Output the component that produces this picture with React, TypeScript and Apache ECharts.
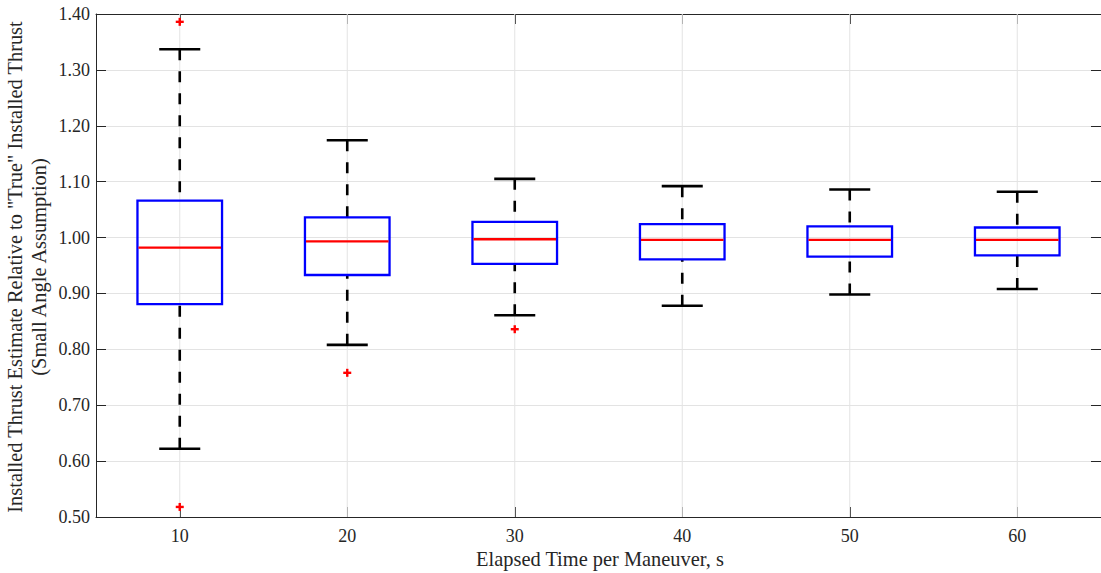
import React, { useEffect, useRef } from "react";
import * as echarts from "echarts";

const categories = ["10", "20", "30", "40", "50", "60"];
const upperWhisker = [1.337, 1.174, 1.105, 1.092, 1.086, 1.082];
const q3 = [1.066, 1.036, 1.028, 1.024, 1.02, 1.018];
const median = [0.982, 0.993, 0.997, 0.996, 0.996, 0.996];
const q1 = [0.881, 0.933, 0.953, 0.961, 0.966, 0.968];
const lowerWhisker = [0.622, 0.808, 0.861, 0.878, 0.898, 0.908];
const outliers: [number, number][] = [
  [0, 1.386],
  [0, 0.518],
  [1, 0.758],
  [2, 0.836],
];
const yMin = 0.5;
const yMax = 1.4;
const yStep = 0.1;
const yTitle1 = 'Installed Thrust Estimate Relative to "True" Installed Thrust';
const yTitle2 = "(Small Angle Assumption)";
const xTitle = "Elapsed Time per Maneuver, s";

const FONT = "'Liberation Serif', 'Times New Roman', serif";
const AXIS = "#262626";
const GRID = "#e3e3e3";
const TITLE_SIZE = 20.4;

export default function App() {
  const ref = useRef<HTMLDivElement>(null);
  useEffect(() => {
    if (!ref.current) return;
    const chart = echarts.init(ref.current, undefined, { renderer: "svg" });
    const boxData = categories.map((_, i) => [
      i,
      lowerWhisker[i],
      q1[i],
      median[i],
      q3[i],
      upperWhisker[i],
    ]);
    const option: any = {
      animation: false,
      backgroundColor: "#ffffff",
      textStyle: { fontFamily: FONT },
      grid: { left: 96, top: 14, width: 1009.6, height: 503, containLabel: false },
      xAxis: [
        {
          type: "category",
          data: categories,
          position: "bottom",
          boundaryGap: true,
          axisLine: { show: true, lineStyle: { color: AXIS, width: 1 } },
          axisTick: { show: true, inside: true, alignWithLabel: true, length: 10, lineStyle: { color: AXIS } },
          axisLabel: { show: true, color: AXIS, fontSize: 18, fontFamily: FONT, margin: 10 },
          splitLine: { show: false },
        },
        {
          type: "category",
          data: categories,
          position: "top",
          boundaryGap: true,
          axisLine: { show: true, lineStyle: { color: AXIS, width: 1 } },
          axisTick: { show: true, inside: true, alignWithLabel: true, length: 10, lineStyle: { color: AXIS } },
          axisLabel: { show: false },
          splitLine: { show: false },
        },
      ],
      yAxis: [
        {
          type: "value",
          min: yMin,
          max: yMax,
          interval: yStep,
          position: "left",
          axisLine: { show: true, lineStyle: { color: AXIS, width: 1 } },
          axisTick: { show: true, inside: true, length: 10, lineStyle: { color: AXIS } },
          axisLabel: {
            color: AXIS,
            fontSize: 18,
            fontFamily: FONT,
            margin: 6,
            formatter: (v: number) => v.toFixed(2),
          },
          splitLine: { show: true, lineStyle: { color: GRID, width: 1 } },
        },
        {
          type: "value",
          min: yMin,
          max: yMax,
          interval: yStep,
          position: "right",
          axisLine: { show: true, lineStyle: { color: AXIS, width: 1 } },
          axisTick: { show: true, inside: true, length: 10, lineStyle: { color: AXIS } },
          axisLabel: { show: false },
          splitLine: { show: false },
        },
      ],
      graphic: [
        {
          type: "text",
          x: 15,
          y: 267,
          rotation: Math.PI / 2,
          style: {
            text: yTitle1,
            font: `${TITLE_SIZE}px ${FONT}`,
            fill: AXIS,
            align: "center",
            verticalAlign: "middle",
          },
        },
        {
          type: "text",
          x: 39,
          y: 267,
          rotation: Math.PI / 2,
          style: {
            text: yTitle2,
            font: `${TITLE_SIZE}px ${FONT}`,
            fill: AXIS,
            align: "center",
            verticalAlign: "middle",
          },
        },
        {
          type: "text",
          x: 600,
          y: 559,
          style: {
            text: xTitle,
            font: `${TITLE_SIZE}px ${FONT}`,
            fill: AXIS,
            align: "center",
            verticalAlign: "middle",
          },
        },
      ],
      series: [
        {
          type: "custom",
          name: "gridx",
          z: 1,
          silent: true,
          data: categories.map((_, i) => [i]),
          encode: { x: 0 },
          renderItem: (params: any, api: any) => {
            const i = api.value(0);
            const a = api.coord([i, yMin]);
            const b = api.coord([i, yMax]);
            return {
              type: "line",
              shape: { x1: a[0], y1: a[1], x2: b[0], y2: b[1] },
              style: { stroke: GRID, lineWidth: 1 },
            };
          },
        },
        {
          type: "custom",
          name: "boxes",
          z: 3,
          data: boxData,
          encode: { x: 0, y: [1, 2, 3, 4, 5] },
          renderItem: (params: any, api: any) => {
            const i = api.value(0);
            const bw = api.size([1, 0])[0];
            const boxW = bw * 0.505;
            const capW = bw * 0.245;
            const lo = api.coord([i, api.value(1)]);
            const pq1 = api.coord([i, api.value(2)]);
            const pmed = api.coord([i, api.value(3)]);
            const pq3 = api.coord([i, api.value(4)]);
            const hi = api.coord([i, api.value(5)]);
            const cx = lo[0];
            const dash = { stroke: "#000000", lineWidth: 2.6, lineDash: [11, 11] };
            return {
              type: "group",
              children: [
                {
                  type: "line",
                  shape: { x1: cx, y1: hi[1], x2: cx, y2: pq3[1] },
                  style: dash,
                },
                {
                  type: "line",
                  shape: { x1: cx, y1: lo[1], x2: cx, y2: pq1[1] },
                  style: dash,
                },
                {
                  type: "line",
                  shape: { x1: cx - capW / 2, y1: hi[1], x2: cx + capW / 2, y2: hi[1] },
                  style: { stroke: "#000000", lineWidth: 2.6 },
                },
                {
                  type: "line",
                  shape: { x1: cx - capW / 2, y1: lo[1], x2: cx + capW / 2, y2: lo[1] },
                  style: { stroke: "#000000", lineWidth: 2.6 },
                },
                {
                  type: "rect",
                  shape: { x: cx - boxW / 2, y: pq3[1], width: boxW, height: pq1[1] - pq3[1] },
                  style: { fill: "none", stroke: "#0000ff", lineWidth: 2.3 },
                },
                {
                  type: "line",
                  shape: { x1: cx - boxW / 2 + 1, y1: pmed[1], x2: cx + boxW / 2 - 1, y2: pmed[1] },
                  style: { stroke: "#ff0000", lineWidth: 2.3 },
                },
              ],
            };
          },
        },
        {
          type: "custom",
          name: "outliers",
          z: 4,
          data: outliers,
          encode: { x: 0, y: 1 },
          renderItem: (params: any, api: any) => {
            const p = api.coord([api.value(0), api.value(1)]);
            const h = 4;
            return {
              type: "group",
              children: [
                {
                  type: "line",
                  shape: { x1: p[0] - h, y1: p[1], x2: p[0] + h, y2: p[1] },
                  style: { stroke: "#ff0000", lineWidth: 2.4 },
                },
                {
                  type: "line",
                  shape: { x1: p[0], y1: p[1] - h, x2: p[0], y2: p[1] + h },
                  style: { stroke: "#ff0000", lineWidth: 2.4 },
                },
              ],
            };
          },
        },
      ],
    };
    chart.setOption(option);
    return () => chart.dispose();
  }, []);
  return (
    <div
      ref={ref}
      style={{ position: "fixed", left: 0, top: 0, width: 1101, height: 573, background: "#fff" }}
    />
  );
}
